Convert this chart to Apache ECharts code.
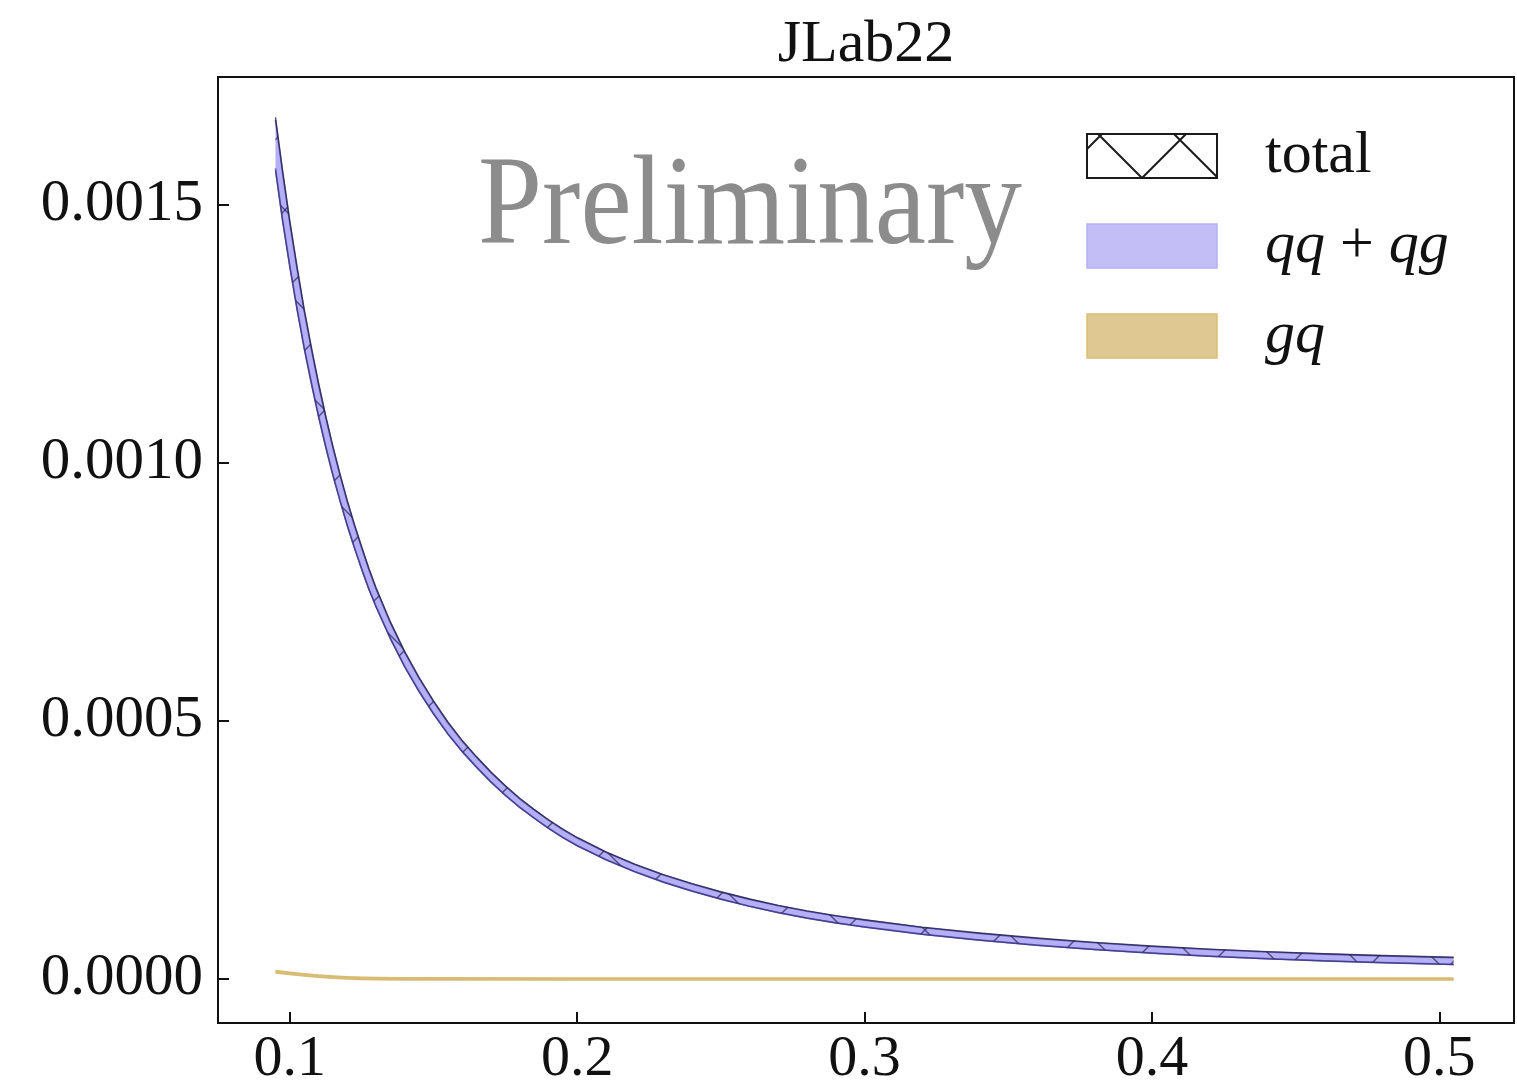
<!DOCTYPE html>
<html>
<head>
<meta charset="utf-8">
<script src="https://cdn.jsdelivr.net/npm/echarts@6/dist/echarts.min.js"></script>
<style>
  html, body { margin: 0; padding: 0; background: #ffffff; }
  #chart { width: 1517px; height: 1089px; }
</style>
</head>
<body>
<div id="chart"></div>
<script>
// x grid shared by the qq+qg and total bands
const xGrid = [0.095, 0.0975, 0.1, 0.1025, 0.105, 0.1075, 0.11, 0.1125, 0.115, 0.1175,
  0.12, 0.1225, 0.125, 0.1275, 0.13, 0.135, 0.14, 0.145, 0.15, 0.155,
  0.16, 0.165, 0.17, 0.175, 0.18, 0.185, 0.19, 0.195, 0.2, 0.21,
  0.22, 0.23, 0.24, 0.25, 0.26, 0.27, 0.28, 0.29, 0.3, 0.32,
  0.34, 0.36, 0.38, 0.4, 0.42, 0.44, 0.46, 0.48, 0.505];

// qq + qg band (lower / upper edge)
const qqLower = [1571e-6, 1471e-6, 1382e-6, 1300e-6, 1224e-6, 1156e-6, 1091e-6, 1032e-6, 977e-6, 927e-6,
  879.5e-6, 836e-6, 795e-6, 756.4e-6, 722e-6, 660e-6, 605.4e-6, 557.6e-6, 514.4e-6, 475.3e-6,
  441.1e-6, 410.6e-6, 382e-6, 356.4e-6, 332.8e-6, 312.1e-6, 292.3e-6, 274.5e-6, 258.7e-6, 231.5e-6,
  208.2e-6, 188e-6, 170.5e-6, 155e-6, 141.1e-6, 128.9e-6, 118.1e-6, 109e-6, 101e-6, 87e-6,
  75.5e-6, 65.7e-6, 57.4e-6, 50.3e-6, 44.3e-6, 39.4e-6, 35.3e-6, 31.9e-6, 28.4e-6];
const qqUpper = [1665e-6, 1561e-6, 1464e-6, 1376e-6, 1294e-6, 1220e-6, 1151e-6, 1088e-6, 1029e-6, 975e-6,
  924.5e-6, 878e-6, 835e-6, 793.6e-6, 756e-6, 690e-6, 632.6e-6, 582.4e-6, 537.6e-6, 496.7e-6,
  460.9e-6, 429.4e-6, 400e-6, 373.6e-6, 349.2e-6, 327.9e-6, 307.7e-6, 289.5e-6, 273.3e-6, 245.5e-6,
  221.9e-6, 201.5e-6, 183.9e-6, 168.2e-6, 154.3e-6, 141.9e-6, 131.1e-6, 122e-6, 114e-6, 99.8e-6,
  88.3e-6, 78.5e-6, 70.2e-6, 63.1e-6, 57.1e-6, 52.2e-6, 48.1e-6, 44.7e-6, 41.2e-6];

// total band (lower / upper edge)
const totalLower = [1567e-6, 1467e-6, 1379e-6, 1297e-6, 1221e-6, 1153e-6, 1089e-6, 1030e-6, 975e-6, 925e-6,
  878e-6, 834e-6, 793.5e-6, 755e-6, 720.7e-6, 659e-6, 604.4e-6, 556.6e-6, 513.5e-6, 474.5e-6,
  440.3e-6, 409.9e-6, 381.3e-6, 355.7e-6, 332.2e-6, 311.5e-6, 291.7e-6, 273.9e-6, 258.1e-6, 231e-6,
  207.7e-6, 187.5e-6, 170e-6, 154.5e-6, 140.6e-6, 128.4e-6, 117.6e-6, 108.5e-6, 100.5e-6, 86.5e-6,
  75e-6, 65.2e-6, 56.9e-6, 49.8e-6, 43.8e-6, 38.9e-6, 34.8e-6, 31.4e-6, 27.9e-6];
const totalUpper = [1670e-6, 1566e-6, 1469e-6, 1381e-6, 1298e-6, 1224e-6, 1155e-6, 1091e-6, 1032e-6, 978e-6,
  927e-6, 881e-6, 837.5e-6, 796e-6, 758e-6, 692e-6, 634.3e-6, 584e-6, 539e-6, 498e-6,
  462e-6, 430.5e-6, 401e-6, 374.6e-6, 350.2e-6, 328.8e-6, 308.6e-6, 290.4e-6, 274.2e-6, 246.3e-6,
  222.7e-6, 202.3e-6, 184.7e-6, 169e-6, 155.1e-6, 142.7e-6, 131.9e-6, 122.8e-6, 114.8e-6, 100.6e-6,
  89.1e-6, 79.3e-6, 71e-6, 63.9e-6, 57.9e-6, 53e-6, 48.9e-6, 45.5e-6, 42e-6];

// gq band
const gqX = [0.095, 0.1, 0.105, 0.11, 0.115, 0.12, 0.125, 0.13, 0.14, 0.15, 0.2, 0.3, 0.4, 0.505];
const gqLower = [12e-6, 9e-6, 6e-6, 3.7e-6, 1.7e-6, 0.3e-6, -0.7e-6, -1.2e-6, -1.5e-6, -1.6e-6, -1.7e-6, -1.7e-6, -1.7e-6, -1.7e-6];
const gqUpper = [16e-6, 13e-6, 10e-6, 7.3e-6, 5.3e-6, 3.9e-6, 2.9e-6, 2.4e-6, 2.1e-6, 1.9e-6, 1.8e-6, 1.8e-6, 1.8e-6, 1.8e-6];

// tick labels
const xTicks = [0.1, 0.2, 0.3, 0.4, 0.5];
const yTicks = [0, 0.0005, 0.0010, 0.0015];

const SERIF = '"Liberation Serif", "DejaVu Serif", serif';
const INK = '#111111';

// rows [x, lower, upper] handed to a custom series
function bandRows(xs, lo, hi) { return xs.map((x, i) => [x, lo[i], hi[i]]); }

// Builds a renderItem that draws the whole band (fill, edges, optional
// cross hatch) once, from the series' own rows mapped through api.coord.
function bandRenderer(rows, look) {
  return function (params, api) {
    if (params.dataIndex !== 0) return null;
    const upper = rows.map(r => api.coord([r[0], r[2]]));
    const lower = rows.map(r => api.coord([r[0], r[1]]));
    const outline = upper.concat(lower.slice().reverse());
    const children = [];
    if (look.fill) {
      children.push({ type: 'polygon', shape: { points: outline }, style: { fill: look.fill }, silent: true });
    }
    if (look.hatch) {
      const cs = params.coordSys;
      const top = cs.y, bottom = cs.y + cs.height, left = cs.x, right = cs.x + cs.width;
      const lines = [];
      const step = look.hatch.step;
      // down-right strokes: x - y = c
      for (let c = left - bottom - step; c <= right - top + step; c += step) {
        lines.push({ type: 'line', shape: { x1: c + top, y1: top, x2: c + bottom, y2: bottom },
          style: { stroke: look.hatch.color, lineWidth: look.hatch.width }, silent: true });
      }
      // up-right strokes: x + y = c
      for (let c = left + top - step + look.hatch.shift; c <= right + bottom + step; c += step) {
        lines.push({ type: 'line', shape: { x1: c - bottom, y1: bottom, x2: c - top, y2: top },
          style: { stroke: look.hatch.color, lineWidth: look.hatch.width }, silent: true });
      }
      children.push({ type: 'group', children: lines, clipPath: { type: 'polygon', shape: { points: outline } } });
    }
    children.push({ type: 'polyline', shape: { points: upper },
      style: { stroke: look.edge, lineWidth: look.edgeWidth, fill: null, opacity: look.edgeOpacity || 1 }, silent: true });
    children.push({ type: 'polyline', shape: { points: lower },
      style: { stroke: look.lowerEdge || look.edge, lineWidth: look.edgeWidth, fill: null, opacity: look.edgeOpacity || 1 }, silent: true });
    return { type: 'group', children: children };
  };
}

function bandSeries(name, rows, look, z) {
  return {
    name: name, type: 'custom', coordinateSystem: 'cartesian2d',
    data: rows, encode: { x: 0, y: [1, 2] },
    renderItem: bandRenderer(rows, look), clip: true, silent: true, z: z
  };
}

const qqRows = bandRows(xGrid, qqLower, qqUpper);
const gqRows = bandRows(gqX, gqLower, gqUpper);
const totalRows = bandRows(xGrid, totalLower, totalUpper);

const series = [
  bandSeries('qq + qg', qqRows, { fill: 'rgba(120,110,236,0.55)', edge: '#6962d4', edgeWidth: 1.6 }, 2),
  bandSeries('gq', gqRows, { fill: 'rgba(200,160,60,0.6)', edge: '#d8bb72', edgeWidth: 1.8 }, 2),
  bandSeries('total', totalRows, {
    fill: null, edge: '#24233e', lowerEdge: '#3b3775', edgeWidth: 1.4, edgeOpacity: 0.8,
    hatch: { step: 80, width: 1.4, color: 'rgba(45,42,90,0.75)', shift: 40 }
  }, 3)
];

const chart = echarts.init(document.getElementById('chart'), null, { renderer: 'canvas' });

chart.setOption({
  animation: false,
  backgroundColor: '#ffffff',
  title: {
    text: 'JLab22',
    left: 866, top: 15, textAlign: 'center', padding: 0,
    textStyle: { fontFamily: SERIF, fontSize: 60, fontWeight: 'normal', color: INK }
  },
  grid: {
    left: 218, right: 3, top: 77, bottom: 66,
    show: true, borderColor: INK, borderWidth: 2, backgroundColor: 'transparent'
  },
  legend: {
    orient: 'vertical', left: 1081, top: 121,
    itemWidth: 130, itemHeight: 44, itemGap: 30,
    selectedMode: false,
    textStyle: {
      fontFamily: SERIF, fontSize: 60, color: INK,
      padding: [0, 0, 0, 43],
      rich: { m: { fontFamily: SERIF, fontStyle: 'italic', fontSize: 60, color: INK } }
    },
    formatter: function (name) {
      if (name === 'qq + qg') return '{m|qq} + {m|qg}';
      if (name === 'gq') return '{m|gq}';
      return name;
    },
    data: [
      { name: 'total',
        icon: 'path://M0,0H130V44H0Z M11,0L55,44 M55,44L99,0 M87,0L130,43 M0,15L15,0',
        itemStyle: { color: 'rgba(0,0,0,0)', borderColor: '#1a1a1a', borderWidth: 2 } },
      { name: 'qq + qg', icon: 'rect',
        itemStyle: { color: '#c3bef6', borderColor: '#b6aff5', borderWidth: 1.5 } },
      { name: 'gq', icon: 'rect',
        itemStyle: { color: '#dfc891', borderColor: '#dcbf72', borderWidth: 1.5 } }
    ]
  },
  graphic: [{
    type: 'text', x: 478, y: 145, scaleX: 0.9, silent: true,
    style: {
      text: 'Preliminary', fontFamily: SERIF, fontSize: 128,
      fill: '#8c8c8c', verticalAlign: 'top', align: 'left'
    }
  }],
  xAxis: {
    type: 'value', min: 0.075, max: 0.526,
    axisLine: { show: true, onZero: false, lineStyle: { color: INK, width: 2 } },
    axisTick: { show: true, inside: true, length: 11, customValues: xTicks, lineStyle: { color: INK, width: 2 } },
    axisLabel: {
      customValues: xTicks, margin: 8,
      fontFamily: SERIF, fontSize: 58, color: INK,
      formatter: v => v.toFixed(1)
    },
    splitLine: { show: false }
  },
  yAxis: {
    type: 'value', min: -0.0000853, max: 0.001748,
    axisLine: { show: true, onZero: false, lineStyle: { color: INK, width: 2 } },
    axisTick: { show: true, inside: true, length: 11, customValues: yTicks, lineStyle: { color: INK, width: 2 } },
    axisLabel: {
      customValues: yTicks, margin: 15,
      fontFamily: SERIF, fontSize: 59, color: INK,
      formatter: v => v.toFixed(4)
    },
    splitLine: { show: false }
  },
  series: series
});
</script>
</body>
</html>
